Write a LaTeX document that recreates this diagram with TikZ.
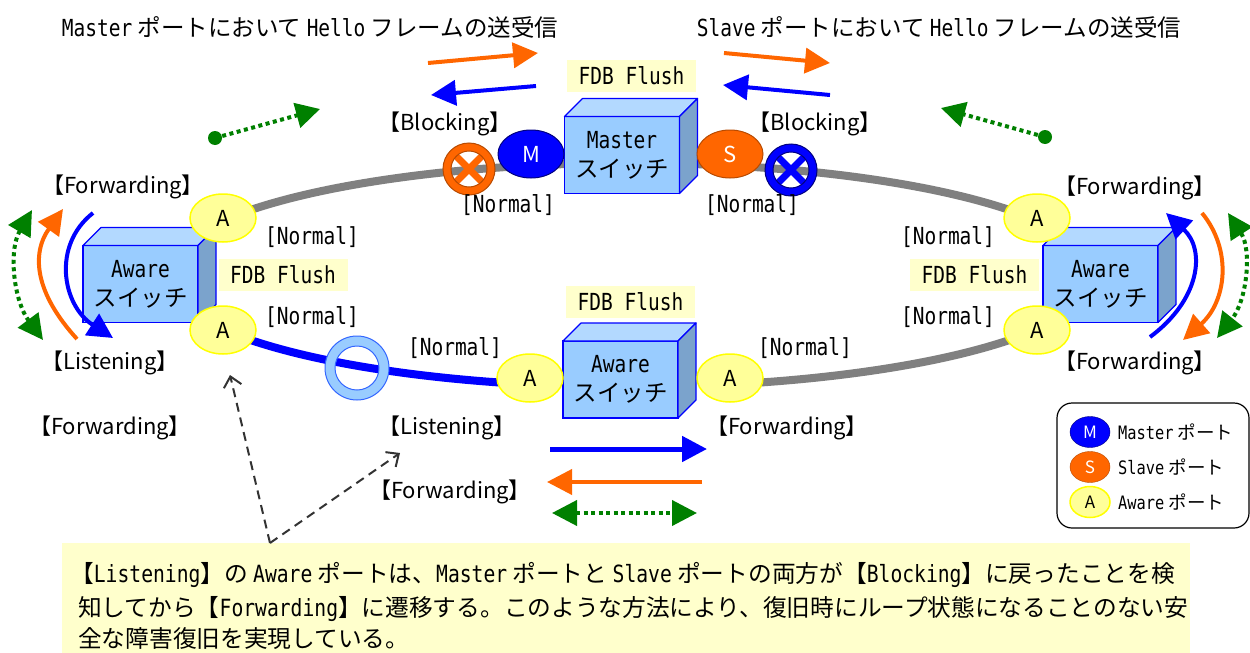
\documentclass[tikz,border=0pt]{standalone}
\usepackage{fontspec}
\setmainfont{Noto Sans CJK JP}
\newfontfamily\hmono[FakeStretch=0.83]{DejaVu Sans Mono}
\usetikzlibrary{arrows.meta,shapes.geometric}

\definecolor{ringgray}{HTML}{808080}
\definecolor{pblue}{HTML}{0000FF}
\definecolor{pbluedk}{HTML}{000080}
\definecolor{porange}{HTML}{FF6600}
\definecolor{porangedk}{HTML}{B84A00}
\definecolor{pyellow}{HTML}{FFFF99}
\definecolor{pyellowdk}{HTML}{FFFF00}
\definecolor{notefill}{HTML}{FFFFCC}
\definecolor{cubefill}{HTML}{99CCFF}
\definecolor{cubetopfill}{HTML}{B3D9FF}
\definecolor{cubesidefill}{HTML}{7BA3CC}
\definecolor{ringblue}{HTML}{99CCFF}
\definecolor{ringbluedk}{HTML}{3366FF}
\definecolor{pgreen}{HTML}{008000}
\definecolor{dashgray}{HTML}{333333}

% switch drawn as a box: front face node plus top and side faces
\newcommand{\swbox}[4]{%
  \node[cubefront] (#1) at (#2,#3) {#4};
  \draw[cubeface, fill=cubetopfill] (#1.north west) -- ([shift={(18,-18)}]#1.north west) -- ([shift={(18,-18)}]#1.north east) -- (#1.north east) -- cycle;
  \draw[cubeface, fill=cubesidefill] (#1.north east) -- ([shift={(18,-18)}]#1.north east) -- ([shift={(18,-18)}]#1.south east) -- (#1.south east) -- cycle;
}
% blocked port mark: ring with a cross
\newcommand{\blockmark}[3]{%
  \draw[#2, line width=7pt] ([shift={(-15,-15)}]#1) -- ([shift={(15,15)}]#1);
  \draw[#2, line width=7pt] ([shift={(-15,15)}]#1) -- ([shift={(15,-15)}]#1);
  \path[fill=#2, draw=#3, line width=1pt, even odd rule] (#1) circle[radius=26pt] (#1) circle[radius=18pt];
}

\begin{document}
\begin{tikzpicture}[x=1pt, y=-1pt,
  lbl/.style={inner sep=0pt, font=\fontsize{22}{26}\selectfont},
  mlbl/.style={inner sep=0pt, font=\fontsize{23.5}{28}\selectfont},
  fdbbox/.style={fill=notefill, inner sep=0pt, minimum width=129pt, minimum height=32pt, font=\fontsize{23.5}{28}\selectfont\hmono},
  portbase/.style={ellipse, inner sep=0pt, minimum width=66pt, minimum height=48pt, font=\fontsize{22}{22}\selectfont},
  aport/.style={portbase, fill=pyellow, draw=pyellowdk, line width=1.5pt},
  mport/.style={portbase, fill=pblue, draw=pbluedk, line width=1pt, text=white},
  sport/.style={portbase, fill=porange, draw=porangedk, line width=1pt, text=white},
  legport/.style={ellipse, inner sep=0pt, minimum width=40pt, minimum height=31pt, font=\fontsize{17}{17}\selectfont},
  cubefront/.style={draw=pblue, line width=1.2pt, fill=cubefill, inner sep=0pt, outer sep=0pt, minimum width=115pt, minimum height=77pt, align=center, font=\fontsize{23.5}{29}\selectfont},
  cubeface/.style={draw=pblue, line width=1.2pt, line join=round},
  ringseg/.style={line width=8pt},
  bigtip/.style={-{Triangle[length=25pt,width=25pt]}},
  bothtips/.style={{Triangle[length=25pt,width=25pt]}-{Triangle[length=25pt,width=25pt]}},
  flow/.style={line width=4pt},
  dots/.style={pgreen, line width=4pt, dash pattern=on 4pt off 3.5pt},
  callout/.style={dashgray, line width=2pt, dash pattern=on 9pt off 6pt, -{Straight Barb[length=10pt,width=18pt]}}
]
\useasboundingbox (0,0) rectangle (1250,653);
\fill[white] (0,0) rectangle (1250,653);

% explanatory note
\node[fill=notefill, inner sep=0pt, minimum width=1128pt, minimum height=110pt] (note) at (626,598) {};
\node[anchor=base west, inner sep=0pt, font=\fontsize{23.7}{28}\selectfont] (note1) at (70,582) {【{\hmono Listening}】の {\hmono Aware} ポートは、{\hmono Master} ポートと {\hmono Slave} ポートの両方が【{\hmono Blocking}】に戻ったことを検};
\node[anchor=base west, inner sep=0pt, font=\fontsize{23.7}{28}\selectfont] (note2) at (78,616) {知してから【{\hmono Forwarding}】に遷移する。このような方法により、復旧時にループ状態になることのない安};
\node[anchor=base west, inner sep=0pt, font=\fontsize{23.7}{28}\selectfont] (note3) at (78,647) {全な障害復旧を実現している。};

% ring
\coordinate (ringc) at (630,275);
\draw[ringseg, ringgray] plot[domain=209.4:330.6, samples=90, variable=\t] ({630+466*cos(\t)},{275+112*sin(\t)});
\draw[ringseg, pblue] plot[domain=150.6:102.4, samples=60, variable=\t] ({630+466*cos(\t)},{275+112*sin(\t)});
\draw[ringseg, ringgray] plot[domain=77.6:29.4, samples=60, variable=\t] ({630+466*cos(\t)},{275+112*sin(\t)});

% switches
\swbox{master}{622}{155}{{\hmono Master}\\スイッチ}
\swbox{awl}{140.5}{284}{{\hmono Aware}\\スイッチ}
\swbox{awr}{1100.5}{284}{{\hmono Aware}\\スイッチ}
\swbox{awm}{620.5}{379.5}{{\hmono Aware}\\スイッチ}

% ports
\node[mport] (pm) at (531,154) {M};
\node[sport] (ps) at (730,154) {S};
\node[aport] (plt) at (223,218) {A};
\node[aport] (plb) at (223,330) {A};
\node[aport] (prt) at (1037,218) {A};
\node[aport] (prb) at (1037,330) {A};
\node[aport] (pml) at (530,378) {A};
\node[aport] (pmr) at (730,378) {A};

% blocked ports and listening port
\coordinate (xmaster) at (469,169);
\coordinate (xslave) at (791,170);
\blockmark{xmaster}{porange}{porangedk}
\blockmark{xslave}{pblue}{pbluedk}
\coordinate (lsn) at (357,368);
\path[fill=ringblue, draw=ringbluedk, line width=1pt, even odd rule] (lsn) circle[radius=32pt] (lsn) circle[radius=22pt];

% titles
\node[mlbl] (tl) at (310,27) {{\hmono Master} ポートにおいて {\hmono Hello} フレームの送受信};
\node[mlbl] (tr) at (939,27) {{\hmono Slave} ポートにおいて {\hmono Hello} フレームの送受信};

% FDB flush notes
\node[fdbbox] (fdbt) at (631.5,76) {FDB Flush};
\node[fdbbox] (fdbl) at (283,274.5) {FDB Flush};
\node[fdbbox] (fdbr) at (974.5,274.5) {FDB Flush};
\node[fdbbox] (fdbm) at (630.5,301.5) {FDB Flush};

% port states
\node[lbl] (sb1) at (445,124) {【Blocking】};
\node[lbl] (sb2) at (815,124) {【Blocking】};
\node[mlbl] (nm1) at (508,205) {\hmono [Normal]};
\node[mlbl] (nm2) at (752,205) {\hmono [Normal]};
\node[lbl] (sf1) at (123,187) {【Forwarding】};
\node[lbl] (sf2) at (1135,188) {【Forwarding】};
\node[mlbl] (nm3) at (312,237) {\hmono [Normal]};
\node[mlbl] (nm4) at (312,317) {\hmono [Normal]};
\node[mlbl] (nm5) at (948,237) {\hmono [Normal]};
\node[mlbl] (nm6) at (948,317) {\hmono [Normal]};
\node[lbl] (sl1) at (110,363) {【Listening】};
\node[lbl] (sf3) at (110,428) {【Forwarding】};
\node[lbl] (sf4) at (1135,363) {【Forwarding】};
\node[mlbl] (nm7) at (455,348) {\hmono [Normal]};
\node[mlbl] (nm8) at (805,348) {\hmono [Normal]};
\node[lbl] (sl2) at (447,428) {【Listening】};
\node[lbl] (sf5) at (787,428) {【Forwarding】};
\node[lbl] (sf6) at (450,492) {【Forwarding】};

% hello frames
\draw[porange, flow, bigtip] (428,63) -- (538,53);
\draw[pblue, flow, bigtip] (536,86) -- (431,95);
\draw[porange, flow, bigtip] (724,53) -- (830,63);
\draw[pblue, flow, bigtip] (830,95) -- (723,85);

% recovery notice towards the ring
\coordinate (gl) at (215,138);
\coordinate (gr) at (1045,137);
\fill[pgreen] (gl) circle[radius=7pt];
\fill[pgreen] (gr) circle[radius=7pt];
\draw[dots, -{Triangle[length=24pt,width=25pt]}] (gl) -- (320,109);
\draw[dots, -{Triangle[length=24pt,width=25pt]}] (gr) -- (941,108);

% state transitions on the left switch
\draw[pblue, flow, bigtip] (93,213) .. controls (52,245) and (62,305) .. (113,338);
\draw[porange, flow, bigtip] (77,339) .. controls (35,293) and (31,254) .. (63,209);
\draw[dots, bothtips] (32,210) .. controls (8,251) and (14,301) .. (43,340);

% state transitions on the right switch
\draw[pblue, flow, bigtip] (1150,337) .. controls (1200,300) and (1206,250) .. (1166,213);
\draw[porange, flow, bigtip] (1202,213) .. controls (1233,251) and (1226,302) .. (1183,340);
\draw[dots, bothtips] (1228,213) .. controls (1252,250) and (1247,300) .. (1217,338);

% transitions on the middle switch
\draw[pblue, line width=5pt, bigtip] (550,449) -- (707,449);
\draw[porange, flow, bigtip] (702,482) -- (547,482);
\draw[dots, bothtips] (552,513) -- (697,513);

% callout arrows
\coordinate (cstart) at (270,543);
\coordinate (ctipa) at (230,375);
\coordinate (ctipb) at (400,453);
\draw[callout] (cstart) -- (ctipa);
\draw[callout] (cstart) -- (ctipb);

% legend
\draw[rounded corners=15pt, line width=1.2pt] (1057,403) rectangle (1249,528);
\node[legport, fill=pblue, draw=pbluedk, text=white] (lgm) at (1090,432) {M};
\node[legport, fill=porange, draw=porangedk, text=white] (lgs) at (1090,467) {S};
\node[legport, fill=pyellow, draw=pyellowdk, line width=1.5pt] (lga) at (1090,502) {A};
\node[anchor=west, inner sep=0pt, font=\fontsize{18.5}{22}\selectfont] (lgmt) at (1118,432) {{\hmono Master} ポート};
\node[anchor=west, inner sep=0pt, font=\fontsize{18.5}{22}\selectfont] (lgst) at (1118,467) {{\hmono Slave} ポート};
\node[anchor=west, inner sep=0pt, font=\fontsize{18.5}{22}\selectfont] (lgat) at (1118,502) {{\hmono Aware} ポート};
\end{tikzpicture}
\end{document}
